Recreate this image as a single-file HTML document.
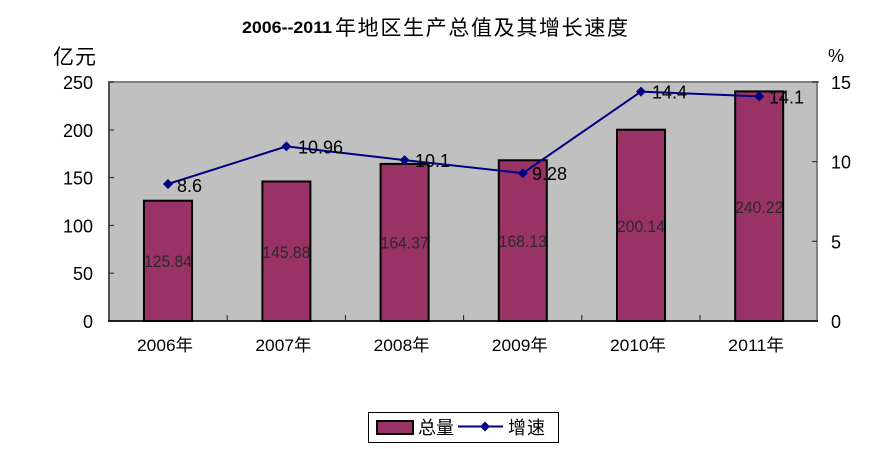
<!DOCTYPE html>
<html><head><meta charset="utf-8"><style>
html,body{margin:0;padding:0;background:#fff;}
svg{display:block;font-family:"Liberation Sans","Noto Sans CJK SC",sans-serif;}
</style></head><body>
<svg width="871" height="449" viewBox="0 0 871 449" xmlns="http://www.w3.org/2000/svg">
<rect width="871" height="449" fill="#fff"/>
<!-- title -->
<text x="242" y="33" font-size="17" font-weight="bold" textLength="90" lengthAdjust="spacingAndGlyphs">2006--2011</text>
<text x="335" y="35" font-size="21" textLength="293" lengthAdjust="spacing" font-family="'Noto Sans CJK SC',sans-serif">年地区生产总值及其增长速度</text>
<!-- axis units -->
<text x="53" y="64" font-size="21" textLength="43" lengthAdjust="spacing" font-family="'Noto Sans CJK SC',sans-serif">亿元</text>
<text x="828" y="62" font-size="18">%</text>
<!-- plot area -->
<rect x="109" y="82" width="708" height="239" fill="#C0C0C0" stroke="#808080" stroke-width="2"/>
<line x1="109" y1="82" x2="109" y2="322" stroke="#404040" stroke-width="1.5"/>
<line x1="108" y1="321" x2="818" y2="321" stroke="#202020" stroke-width="2"/>
<!-- ticks -->
<g stroke="#202020" stroke-width="1">
<line x1="109" y1="82" x2="114" y2="82"/><line x1="109" y1="130" x2="114" y2="130"/>
<line x1="109" y1="177.6" x2="114" y2="177.6"/><line x1="109" y1="225.4" x2="114" y2="225.4"/>
<line x1="109" y1="273.2" x2="114" y2="273.2"/>
<line x1="812" y1="82" x2="819" y2="82"/><line x1="812" y1="161.7" x2="817" y2="161.7"/>
<line x1="812" y1="241.3" x2="817" y2="241.3"/>
<line x1="227.2" y1="315" x2="227.2" y2="321"/><line x1="345.4" y1="315" x2="345.4" y2="321"/>
<line x1="463.6" y1="315" x2="463.6" y2="321"/><line x1="581.8" y1="315" x2="581.8" y2="321"/>
<line x1="700" y1="315" x2="700" y2="321"/>
</g>
<!-- left labels -->
<g font-size="18" text-anchor="end" fill="#000">
<text x="93" y="89">250</text><text x="93" y="137">200</text><text x="93" y="184.5">150</text>
<text x="93" y="232.4">100</text><text x="93" y="280.2">50</text><text x="93" y="328">0</text>
</g>
<g font-size="18" fill="#000">
<text x="831" y="89">15</text><text x="831" y="168.7">10</text><text x="831" y="248.3">5</text><text x="831" y="328">0</text>
</g>
<!-- bars -->
<g fill="#993366" stroke="#000" stroke-width="2">
<rect x="144" y="200.7" width="48" height="120.3"/>
<rect x="262.4" y="181.5" width="48" height="139.5"/>
<rect x="380.6" y="163.9" width="48" height="157.1"/>
<rect x="498.8" y="160.3" width="48" height="160.7"/>
<rect x="617" y="129.7" width="48" height="191.3"/>
<rect x="735.2" y="91.4" width="48" height="229.6"/>
</g>
<!-- bar labels -->
<g font-size="17" fill="#2a2a2a" text-anchor="middle">
<text x="168" y="267" textLength="48" lengthAdjust="spacingAndGlyphs">125.84</text>
<text x="286.4" y="258" textLength="48" lengthAdjust="spacingAndGlyphs">145.88</text>
<text x="404.6" y="248.5" textLength="48" lengthAdjust="spacingAndGlyphs">164.37</text>
<text x="522.8" y="247" textLength="48" lengthAdjust="spacingAndGlyphs">168.13</text>
<text x="641" y="232" textLength="48" lengthAdjust="spacingAndGlyphs">200.14</text>
<text x="759.2" y="213" textLength="48" lengthAdjust="spacingAndGlyphs">240.22</text>
</g>
<!-- line -->
<polyline points="168,184 286.4,146.4 404.6,160.1 522.8,173.2 641,91.6 759.2,96.4" fill="none" stroke="#000080" stroke-width="2"/>
<g fill="#000080">
<polygon points="168,179 173,184 168,189 163,184"/>
<polygon points="286.4,141.4 291.4,146.4 286.4,151.4 281.4,146.4"/>
<polygon points="404.6,155.1 409.6,160.1 404.6,165.1 399.6,160.1"/>
<polygon points="522.8,168.2 527.8,173.2 522.8,178.2 517.8,173.2"/>
<polygon points="641,86.6 646,91.6 641,96.6 636,91.6"/>
<polygon points="759.2,91.4 764.2,96.4 759.2,101.4 754.2,96.4"/>
</g>
<g font-size="18" fill="#000">
<text x="177" y="192">8.6</text>
<text x="298" y="153.5">10.96</text>
<text x="415" y="167">10.1</text>
<text x="532" y="180">9.28</text>
<text x="652" y="98.5">14.4</text>
<text x="769" y="103.5">14.1</text>
</g>
<!-- x labels -->
<g font-size="17" text-anchor="middle" fill="#000">
<text x="165" y="351" textLength="56" lengthAdjust="spacingAndGlyphs">2006年</text>
<text x="283.4" y="351" textLength="56" lengthAdjust="spacingAndGlyphs">2007年</text>
<text x="401.6" y="351" textLength="56" lengthAdjust="spacingAndGlyphs">2008年</text>
<text x="519.8" y="351" textLength="56" lengthAdjust="spacingAndGlyphs">2009年</text>
<text x="638" y="351" textLength="56" lengthAdjust="spacingAndGlyphs">2010年</text>
<text x="756.2" y="351" textLength="56" lengthAdjust="spacingAndGlyphs">2011年</text>
</g>
<!-- legend -->
<rect x="368.5" y="412.5" width="190" height="30" fill="#fff" stroke="#000" stroke-width="1"/>
<rect x="377" y="421" width="36" height="13" fill="#993366" stroke="#000" stroke-width="2"/>
<text x="418" y="434" font-size="18" font-family="'Noto Sans CJK SC',sans-serif" textLength="36" lengthAdjust="spacing">总量</text>
<line x1="458" y1="426.5" x2="503" y2="426.5" stroke="#000080" stroke-width="2"/>
<polygon points="485,421.5 490,426.5 485,431.5 480,426.5" fill="#000080"/>
<text x="508" y="434" font-size="18" font-family="'Noto Sans CJK SC',sans-serif" textLength="37" lengthAdjust="spacing">增速</text>
</svg>
</body></html>
